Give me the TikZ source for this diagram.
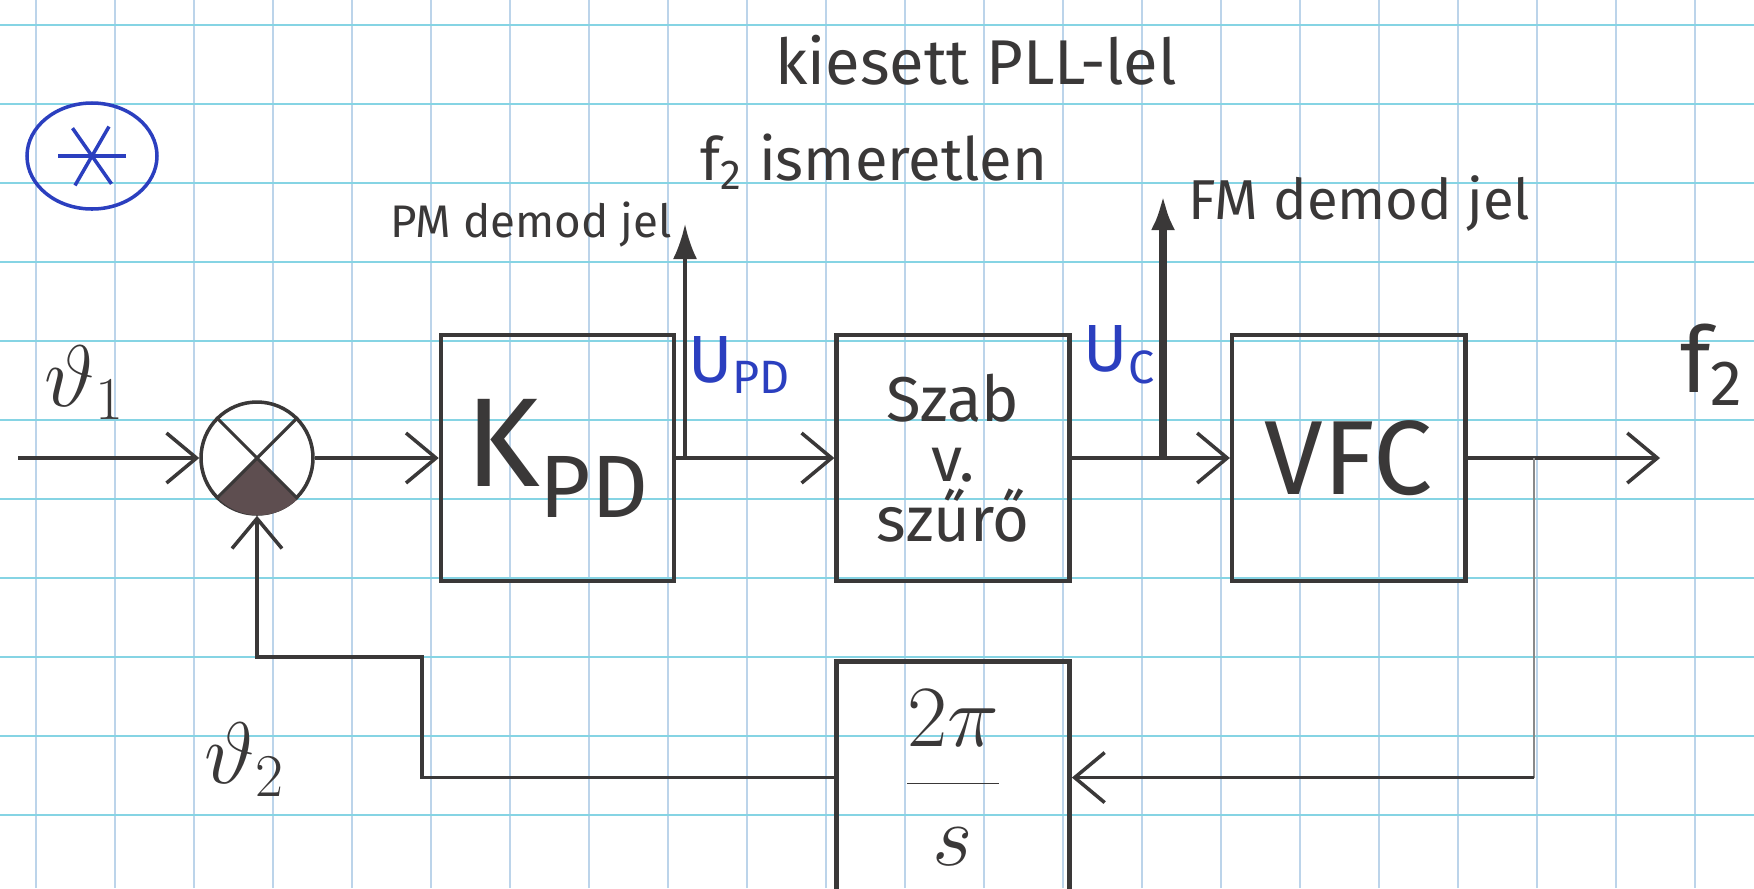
\documentclass[tikz,border=0pt]{standalone}
\usepackage{fontspec}
\setmainfont{Fira Sans}
\usetikzlibrary{arrows.meta,positioning,shapes.geometric}
\definecolor{pencil}{HTML}{3A3838}
\definecolor{ink}{HTML}{2B3FBF}
\definecolor{gridh}{HTML}{86D4E4}
\definecolor{gridv}{HTML}{BCD4EA}
\definecolor{wedge}{HTML}{5E4E50}
\definecolor{faint}{HTML}{8A8A8A}

\begin{document}
\begin{tikzpicture}[
  x=1mm, y=1mm,
  font=\fontsize{14}{16}\selectfont,
  node distance=15.8mm,
  block/.style={
    draw=pencil, line width=1.3pt, minimum width=23.3mm,
    minimum height=24.6mm, align=center, text=pencil, inner sep=0pt
  },
  summer/.style={
    draw=pencil, line width=1pt, circle, minimum size=11.2mm, inner sep=0pt
  },
  arrow/.style={-{Straight Barb[length=3mm,width=5mm]}, line width=1pt, draw=pencil},
  tap/.style={-{Latex[length=3.5mm,width=2.4mm]}, line width=1pt, draw=pencil},
  note/.style={text=pencil, inner sep=1pt},
  sig/.style={text=ink, inner sep=1pt, font=\fontsize{19}{21}\selectfont}
]

\useasboundingbox (0,0) rectangle (175.4,88.8);
\fill[white] (0,0) rectangle (175.4,88.8);

% squared paper
\foreach \gx in {0,...,21}
  \draw[gridv, line width=0.5pt] ({3.6+7.9*\gx},0) -- ({3.6+7.9*\gx},88.8);
\foreach \gy in {0,...,10}
  \draw[gridh, line width=0.6pt] (0,{86.3-7.9*\gy}) -- (175.4,{86.3-7.9*\gy});

\node[summer] (summer) at (25.7,43) {};
\fill[wedge] (summer.center) -- (summer.-45)
  arc[start angle=-45, end angle=-135, radius=5.6mm] -- cycle;
\draw[pencil, line width=0.9pt] (summer.45) -- (summer.-135);
\draw[pencil, line width=0.9pt] (summer.135) -- (summer.-45);

\node[block, right=12.4mm of summer, font=\fontsize{36}{40}\selectfont]
  (detector) {K\textsubscript{PD}};
\node[block, right=of detector, font=\fontsize{18}{17}\selectfont]
  (filter) {Szab\\v.\\szűrő};
\node[block, right=of filter, font=\fontsize{30}{34}\selectfont]
  (vco) {VFC};
\node[block, below=7.6mm of filter, minimum height=23.2mm,
  font=\fontsize{24}{28}\selectfont]
  (divider) {$\displaystyle\frac{2\pi}{s}$};

\coordinate (input) at (1.8,43);
\coordinate (pdtap) at (68.5,43);
\coordinate (pdend) at (68.5,66.4);
\coordinate (ctap) at (116.3,43);
\coordinate (cend) at (116.3,69.3);
\coordinate (ftap) at (153.4,43);
\coordinate (fout) at (166,43);
\coordinate (fbk) at (42.2,23.1);

\node[note, font=\fontsize{24}{26}\selectfont] (theta1) at (8.5,50.5) {$\vartheta_1$};
\node[note, font=\fontsize{24}{26}\selectfont] (theta2) at (24.5,12.8) {$\vartheta_2$};
\node[note, font=\fontsize{26}{28}\selectfont] (f2) at (171.2,52.3) {f\textsubscript{2}};
\node[sig] (upd) at (74,52.3) {U\textsubscript{PD}};
\node[sig] (uc) at (112,53.3) {U\textsubscript{C}};

\node[note, font=\fontsize{13}{15}\selectfont, anchor=east]
  (pmlabel) at (67.6,66.3) {PM demod jel};
\node[note, font=\fontsize{16}{18}\selectfont, anchor=west]
  (fmlabel) at (118.4,68.4) {FM demod jel};
\node[note, font=\fontsize{18}{20}\selectfont]
  (title) at (97.6,82.8) {kiesett PLL-lel};
\node[note, font=\fontsize{17}{19}\selectfont]
  (unknown) at (87.4,72.6) {f\textsubscript{2} ismeretlen};

\node[draw=ink, line width=1pt, ellipse, minimum width=13mm, minimum height=10.6mm]
  (star) at (9.2,73.2) {};
\foreach \a in {0,60,125}
  \draw[ink, line width=1pt] ([shift={(\a:3.4mm)}]star.center)
    -- ([shift={(\a+180:3.4mm)}]star.center);

\draw[arrow] (input) -- (summer);
\draw[arrow] (summer) -- (detector);
\draw[arrow] (detector) -- (filter);
\draw[arrow] (filter) -- (vco);
\draw[arrow] (vco) -- (fout);
\draw[tap] (pdtap) -- (pdend);
\draw[tap, line width=2.2pt] (ctap) -- (cend);
\draw[faint, line width=0.8pt] (ftap) -- (ftap |- divider.east);
\draw[arrow] (ftap |- divider.east) -- (divider.east);
\draw[arrow] (divider.west) -| (fbk) -| (summer.south);

\end{tikzpicture}
\end{document}
